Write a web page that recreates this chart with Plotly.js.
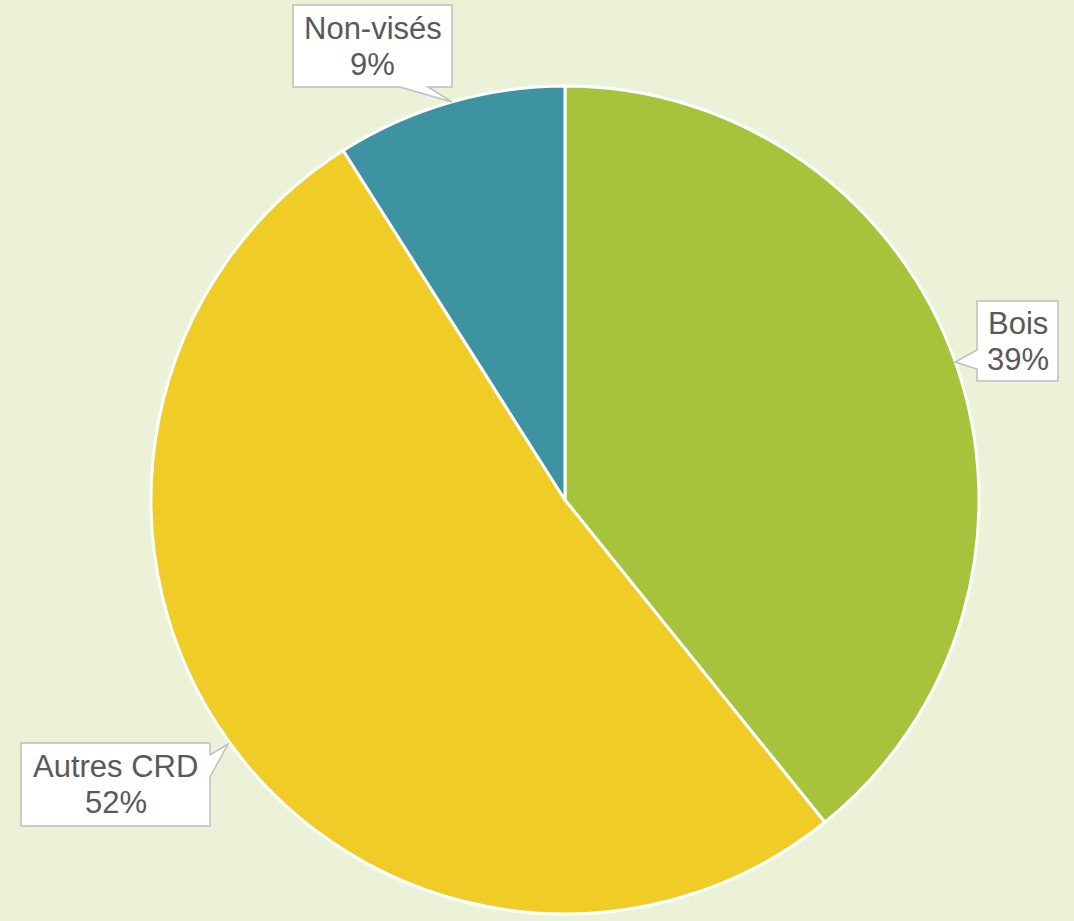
<!DOCTYPE html>
<html>
<head>
<meta charset="utf-8">
<script src="https://cdn.plot.ly/plotly-3.0.1.min.js"></script>
<style>html,body{margin:0;padding:0;background:#ECF2D8;}#chart{width:1074px;height:921px;}</style>
</head>
<body>
<div id="chart"></div>
<script>
const labels = ["Bois", "Autres CRD", "Non-visés"];
const values = [39.2, 51.8, 9.0];
const colors = ["#A6C33B", "#F0CC27", "#3E93A3"];

const W = 1074, H = 921;
const px = x => x / W;
const py = y => 1 - y / H;

// callout outlines (box + pointer) in pixels, one per label
const calloutPaths = [
  [[977,301],[1058,301],[1058,381],[977,381],[977,369],[955,362],[977,350]],
  [[21,743],[210,743],[210,755],[228,744],[210,777],[210,826],[21,826]],
  [[293,5],[452,5],[452,87],[428,87],[452,102],[400,87],[293,87]]
];
const boxCenters = [[1017.5,342],[115.5,784.5],[372.5,46]];
const lineGap = 18;

const total = values.reduce((a, b) => a + b, 0);

const shapes = calloutPaths.map(pts => ({
  type: "path", xref: "paper", yref: "paper", layer: "above",
  path: pts.map((p, i) => (i ? "L" : "M") + px(p[0]) + "," + py(p[1])).join(" ") + " Z",
  fillcolor: "#FFFFFF",
  line: {color: "#BFBFBF", width: 1.5}
}));

const font = {family: "Liberation Sans, Arial, sans-serif", size: 31, color: "#595959"};
const annotations = [];
labels.forEach((l, i) => {
  const c = boxCenters[i];
  annotations.push({
    xref: "paper", yref: "paper", x: px(c[0]), y: py(c[1] - lineGap),
    xanchor: "center", yanchor: "middle", showarrow: false, text: l, font: font
  });
  annotations.push({
    xref: "paper", yref: "paper", x: px(c[0]), y: py(c[1] + lineGap),
    xanchor: "center", yanchor: "middle", showarrow: false,
    text: Math.round(values[i] / total * 100) + "%", font: font
  });
});

const R = 414, cx = 565, cy = 500;
const data = [{
  type: "pie",
  labels: labels,
  values: values,
  sort: false,
  direction: "clockwise",
  rotation: 0,
  textinfo: "none",
  hoverinfo: "label+percent",
  marker: {colors: colors, line: {color: "#FFFFFF", width: 3}},
  domain: {x: [px(cx - R), px(cx + R)], y: [py(cy + R), py(cy - R)]}
}];

const layout = {
  width: W, height: H,
  margin: {l: 0, r: 0, t: 0, b: 0},
  paper_bgcolor: "#ECF2D8",
  plot_bgcolor: "#ECF2D8",
  showlegend: false,
  shapes: shapes,
  annotations: annotations
};

Plotly.newPlot("chart", data, layout, {displayModeBar: false, staticPlot: true});
</script>
</body>
</html>
